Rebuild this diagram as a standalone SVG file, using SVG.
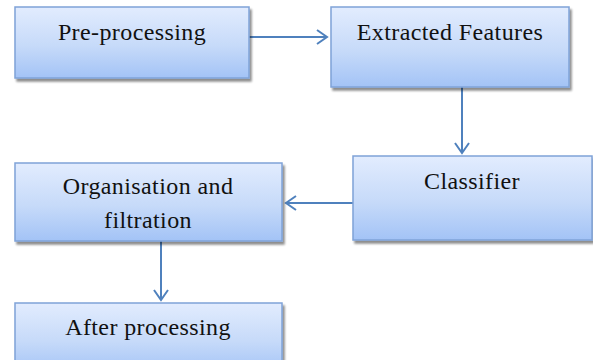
<svg xmlns="http://www.w3.org/2000/svg" width="593" height="360" viewBox="0 0 593 360">
<defs>
<linearGradient id="g" x1="0" y1="0" x2="0" y2="1">
<stop offset="0" stop-color="#e2ecfe"/>
<stop offset="0.55" stop-color="#c6daf9"/>
<stop offset="1" stop-color="#a3c3f6"/>
</linearGradient>
<filter id="sh" x="-10%" y="-10%" width="130%" height="130%">
<feGaussianBlur in="SourceAlpha" stdDeviation="1"/>
<feOffset dx="2" dy="3" result="b"/>
<feComponentTransfer><feFuncA type="linear" slope="0.45"/></feComponentTransfer>
<feMerge><feMergeNode/><feMergeNode in="SourceGraphic"/></feMerge>
</filter>
<marker id="arr" markerWidth="16" markerHeight="16" refX="12" refY="8" orient="auto" markerUnits="userSpaceOnUse">
<path d="M2,1 L12,8 L2,15" fill="none" stroke="#4f81bd" stroke-width="2"/>
</marker>
</defs>
<style>
.box{fill:url(#g);stroke:#7fa3d8;stroke-width:1.5;filter:url(#sh)}
.t{font-family:"Liberation Serif","Times New Roman",serif;font-size:24px;letter-spacing:0.4px;fill:#111;text-anchor:middle}
.c{stroke:#4f81bd;stroke-width:2;fill:none;marker-end:url(#arr)}
</style>
<rect width="593" height="360" fill="#fff"/>
<g id="connectors">
<line class="c" x1="249" y1="37" x2="327" y2="37"/>
<line class="c" x1="462" y1="87" x2="462" y2="153"/>
<line class="c" x1="353" y1="203" x2="286" y2="203"/>
<line class="c" x1="161" y1="241" x2="161" y2="300"/>
</g>
<g id="preprocessing">
<rect class="box" x="15" y="7" width="234" height="71"/>
<text class="t" x="132" y="40">Pre-processing</text>
</g>
<g id="extracted">
<rect class="box" x="331" y="7" width="238" height="80"/>
<text class="t" x="450" y="40">Extracted Features</text>
</g>
<g id="classifier">
<rect class="box" x="353" y="156" width="239" height="84"/>
<text class="t" x="472" y="189">Classifier</text>
</g>
<g id="organisation">
<rect class="box" x="15" y="163" width="267" height="78"/>
<text class="t" x="148" y="194">Organisation and</text>
<text class="t" x="148" y="228">filtration</text>
</g>
<g id="after">
<rect class="box" x="15" y="303" width="267" height="70"/>
<text class="t" x="148" y="335">After processing</text>
</g>
</svg>
